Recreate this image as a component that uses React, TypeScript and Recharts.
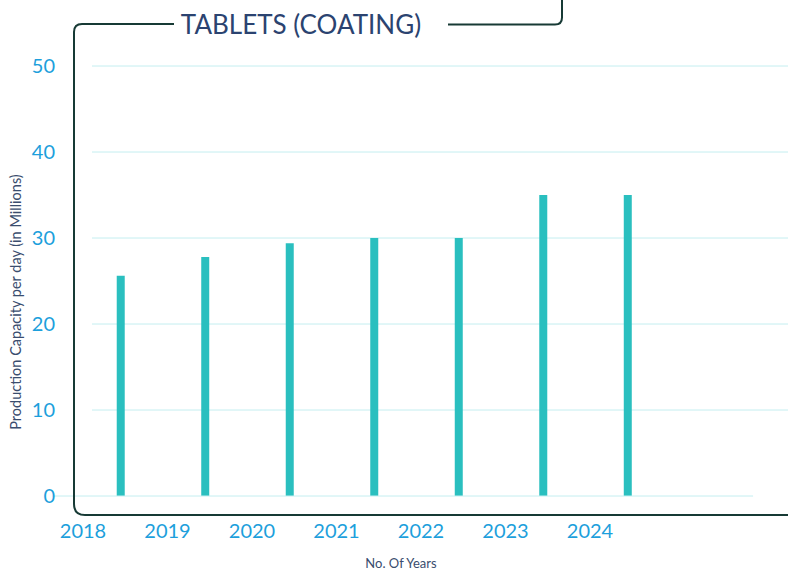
import React from "react";
import {
  BarChart,
  Bar,
  XAxis,
  YAxis,
  CartesianGrid,
  ReferenceLine,
  Label,
} from "recharts";

const years = [2018, 2019, 2020, 2021, 2022, 2023, 2024];
const capacity = [25.6, 27.8, 29.4, 30, 30, 35, 35];
const yTicks = [0, 10, 20, 30, 40, 50];
const gridValues = [10, 20, 30, 40, 50];

const data = years.map((year, i) => ({ year, capacity: capacity[i] }));

const FONT = "Lato, 'Noto Sans', sans-serif";
const TICK_BLUE = "#1d9fdc";
const LABEL_NAVY = "#3a4d6e";
const GRID = "#c4eef0";
const FRAME = "#173a35";

function YearTick(props: any) {
  const { x, y, payload } = props;
  return (
    <text
      x={x - 38}
      y={y}
      dy="0.71em"
      textAnchor="middle"
      fill={TICK_BLUE}
      fontSize={20}
      fontFamily={FONT}
    >
      {payload.value}
    </text>
  );
}

// rotated y-axis title, nudged below the axis centre like the original
function YTitle(props: any) {
  const { viewBox } = props;
  const cx = viewBox.x + 15;
  const cy = viewBox.y + viewBox.height / 2 + 21;
  return (
    <text
      x={cx}
      y={cy}
      transform={`rotate(-90, ${cx}, ${cy})`}
      textAnchor="middle"
      dominantBaseline="central"
      fill={LABEL_NAVY}
      fontSize={14.5}
      fontFamily={FONT}
    >
      Production Capacity per day (in Millions)
    </text>
  );
}

export default function App() {
  return (
    <div style={{ position: "absolute", left: 0, top: 0, width: 788, height: 571, background: "#fff" }}>
      <BarChart
        width={788}
        height={571}
        data={data}
        margin={{ top: 66, right: 0, bottom: 0, left: 0 }}
      >
        <CartesianGrid vertical={false} stroke={GRID} horizontalValues={gridValues} />
        <ReferenceLine
          segment={[
            { x: 2017.19, y: 0 },
            { x: 2025.48, y: 0 },
          ]}
          stroke={GRID}
          ifOverflow="visible"
        />
        <XAxis
          dataKey="year"
          type="number"
          domain={[2017.657, 2025.893]}
          ticks={years}
          allowDataOverflow
          axisLine={false}
          tickLine={false}
          tickSize={0}
          tickMargin={28}
          height={75}
          tick={<YearTick />}
          interval={0}
        />
        <YAxis
          domain={[0, 50]}
          ticks={yTicks}
          width={92}
          axisLine={false}
          tickLine={false}
          tickSize={0}
          tickMargin={37}
          tick={{ fill: TICK_BLUE, fontSize: 20, fontFamily: FONT }}
        >
          <Label content={<YTitle />} />
        </YAxis>
        <Bar dataKey="capacity" fill="#2abfbf" barSize={8} isAnimationActive={false} />
      </BarChart>
      <svg
        width={788}
        height={571}
        style={{ position: "absolute", left: 0, top: 0, pointerEvents: "none" }}
      >
        <path
          d="M174 24 H82 Q74 24 74 32 V504 Q74 515 85 515 H788"
          fill="none"
          stroke={FRAME}
          strokeWidth={2}
        />
        <path d="M448 24.5 H555 Q562 24.5 562 17.5 V0" fill="none" stroke={FRAME} strokeWidth={2} />
        <text x={301} y={34} textAnchor="middle" fill="#2b4370" fontSize={26} fontFamily={FONT}>
          TABLETS (COATING)
        </text>
        <text x={401} y={568} textAnchor="middle" fill={LABEL_NAVY} fontSize={13} fontFamily={FONT}>
          No. Of Years
        </text>
      </svg>
    </div>
  );
}
